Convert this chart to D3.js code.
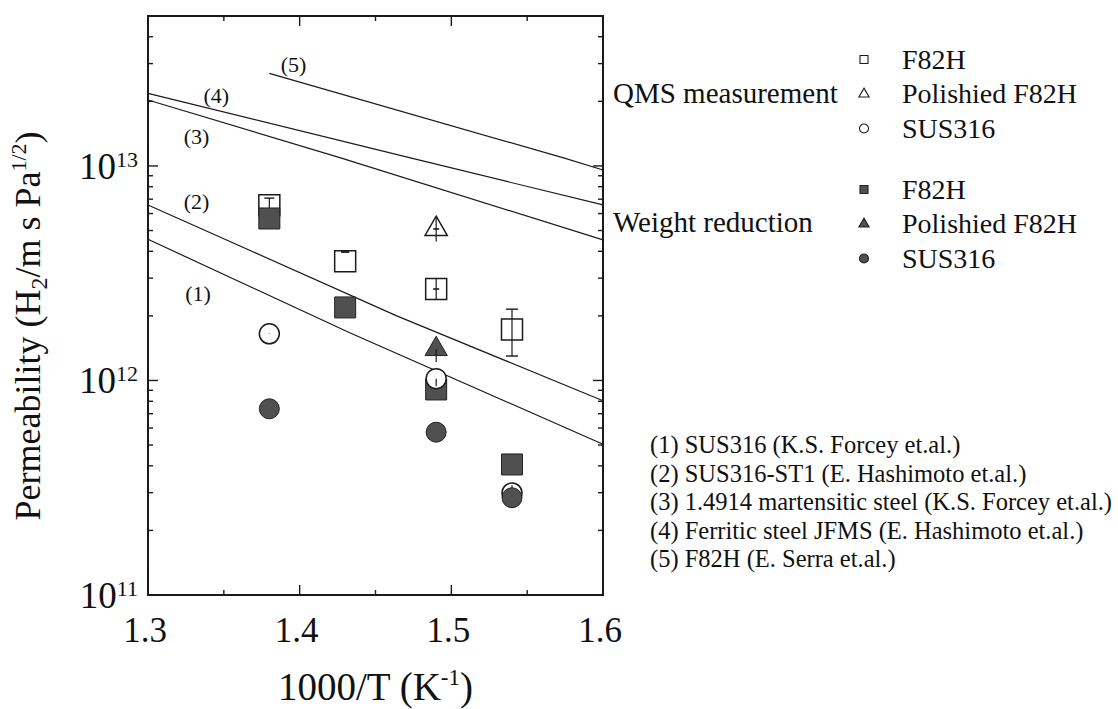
<!DOCTYPE html>
<html>
<head>
<meta charset="utf-8">
<script src="https://cdn.jsdelivr.net/npm/d3@7"></script>
<style>
  body { margin: 0; background: #fff; }
  text { font-family: "Liberation Serif", "Times New Roman", serif; fill: #111; }
</style>
</head>
<body>
<svg width="1118" height="709"></svg>
<script>
// ---- data ----
var invT = [1.38, 1.43, 1.49, 1.54];

// QMS measurement (open symbols)
var qmsF82H   = [6.56e12, 3.60e12, 2.67e12, 1.73e12];
var qmsF82HLo = [6.10e12, 3.97e12, 2.40e12, 1.30e12];
var qmsF82HHi = [7.08e12, 3.97e12, 2.97e12, 2.15e12];
var qmsF82HCap = [5, 4, 0, 6];
var qmsPolT  = [1.49];
var qmsPol   = [5.08e12];
var qmsPolLo = [4.44e12];
var qmsPolHi = [5.82e12];
var qmsSusT  = [1.38, 1.49, 1.54];
var qmsSus   = [1.65e12, 1.02e12, 2.99e11];
var qmsSusLo = [1.645e12, 0.94e12, 2.99e11];
var qmsSusHi = [1.655e12, 1.02e12, 3.25e11];

// weight reduction (filled symbols)
var wrF82H  = [5.69e12, 2.19e12, 9.08e11, 4.06e11];
var wrPolT  = [1.49];
var wrPol   = [1.40e12];
var wrPolLo = [1.22e12];
var wrPolHi = [1.40e12];
var wrSusT  = [1.38, 1.49, 1.54];
var wrSus   = [7.38e11, 5.74e11, 2.84e11];

// literature lines (1)-(5)
var lineLabels = ["(1)", "(2)", "(3)", "(4)", "(5)"];
var lineX = [
  [1.30, 1.433, 1.60],
  [1.30, 1.464, 1.60],
  [1.30, 1.427, 1.60],
  [1.30, 1.473, 1.60],
  [1.38, 1.574, 1.60]
];
var lineY = [
  [4.55e12, 1.67e12, 5.04e11],
  [6.58e12, 2.00e12, 8.04e11],
  [2.03e13, 1.09e13, 4.52e12],
  [2.18e13, 1.09e13, 6.58e12],
  [2.70e13, 1.09e13, 9.57e12]
];
// where the (n) tags sit, in data units
var tagX = [1.333, 1.332, 1.332, 1.345, 1.396];
var tagY = [2.35e12, 6.3e12, 1.27e13, 1.97e13, 2.74e13];

var xMajor = [1.3, 1.4, 1.5, 1.6];
var xMinor = [1.35, 1.45, 1.55];
var yDecades = [11, 12, 13];

var qmsNames = ["F82H", "Polishied F82H", "SUS316"];
var wrNames  = ["F82H", "Polishied F82H", "SUS316"];
var refTexts = [
  "(1) SUS316 (K.S. Forcey et.al.)",
  "(2) SUS316-ST1 (E. Hashimoto et.al.)",
  "(3) 1.4914 martensitic steel (K.S. Forcey et.al.)",
  "(4) Ferritic steel JFMS (E. Hashimoto et.al.)",
  "(5) F82H (E. Serra et.al.)"
];

// ---- layout ----
var svg = d3.select("svg");
var pL = 148, pR = 603, pT = 16, pB = 595;

var x = d3.scaleLinear().domain([1.3, 1.6]).range([pL, pR]);
var y = d3.scaleLog().domain([1e11, 5e13]).range([pB, pT]);

var gray = "#505050", dark = "#1a1a1a";

// minor y ticks 2..9 x 10^k
var yMinor = [];
yDecades.forEach(function(k) {
  for (var m = 2; m <= 9; m++) {
    var v = m * Math.pow(10, k);
    if (v <= 5e13) yMinor.push(v);
  }
});

var axes = svg.append("g");

// ticks on all four sides, pointing inward
function tick(x1, y1, x2, y2) {
  axes.append("line").attr("x1", x1).attr("y1", y1).attr("x2", x2).attr("y2", y2)
    .attr("stroke", dark).attr("stroke-width", 1.4);
}
xMajor.forEach(function(v) { tick(x(v), pB, x(v), pB - 10); tick(x(v), pT, x(v), pT + 10); });
xMinor.forEach(function(v) { tick(x(v), pB, x(v), pB - 5); tick(x(v), pT, x(v), pT + 5); });
yDecades.forEach(function(k) {
  var v = Math.pow(10, k);
  tick(pL, y(v), pL + 10, y(v)); tick(pR, y(v), pR - 10, y(v));
});
yMinor.forEach(function(v) { tick(pL, y(v), pL + 5, y(v)); tick(pR, y(v), pR - 5, y(v)); });

axes.append("rect").attr("x", pL).attr("y", pT)
  .attr("width", pR - pL).attr("height", pB - pT)
  .attr("fill", "none").attr("stroke", dark).attr("stroke-width", 2);

// x tick labels
axes.selectAll(".xl").data(xMajor).enter().append("text")
  .attr("x", function(d) { return x(d) - 3; })
  .attr("y", 642)
  .attr("text-anchor", "middle")
  .attr("font-size", 35)
  .text(function(d) { return d.toFixed(1); });

// y tick labels 10^k
yDecades.forEach(function(k) {
  var t = axes.append("text")
    .attr("x", pL - 10).attr("y", y(Math.pow(10, k)) + 13)
    .attr("text-anchor", "end");
  t.append("tspan").attr("font-size", 37).text("10");
  t.append("tspan").attr("font-size", 22).attr("dy", -12).text(k);
});

// axis titles
var xt = axes.append("text").attr("x", (pL + pR) / 2).attr("y", 700)
  .attr("text-anchor", "middle").attr("font-size", 39);
xt.append("tspan").text("1000/T (K");
xt.append("tspan").attr("font-size", 23).attr("dy", -15).text("-1");
xt.append("tspan").attr("dy", 15).text(")");

var yt = axes.append("text")
  .attr("transform", "translate(40,326) rotate(-90)")
  .attr("text-anchor", "middle").attr("font-size", 36);
yt.append("tspan").text("Permeability (H");
yt.append("tspan").attr("font-size", 24).attr("dy", 7).text("2");
yt.append("tspan").attr("dy", -7).text("/m s Pa");
yt.append("tspan").attr("font-size", 22).attr("dy", -14).text("1/2");
yt.append("tspan").attr("dy", 14).text(")");

// ---- literature lines ----
var plot = svg.append("g");
var lineGen = d3.line().x(function(d) { return x(d[0]); }).y(function(d) { return y(d[1]); });
lineX.forEach(function(xs, i) {
  var pts = xs.map(function(v, j) { return [v, lineY[i][j]]; });
  plot.append("path").attr("d", lineGen(pts))
    .attr("fill", "none").attr("stroke", dark).attr("stroke-width", 1.2);
});
plot.selectAll(".tag").data(lineLabels).enter().append("text")
  .attr("x", function(d, i) { return x(tagX[i]); })
  .attr("y", function(d, i) { return y(tagY[i]); })
  .attr("text-anchor", "middle").attr("font-size", 22)
  .text(function(d) { return d; });

// ---- data markers ----
var sqBig = d3.symbol().type(d3.symbolSquare).size(441);
var triBig = d3.symbol().type(d3.symbolTriangle).size(215);
var cirBig = d3.symbol().type(d3.symbolCircle).size(314);

// caps: >0 cap half-width, 0 = centre dash only, -1 = bare line
function errBars(xs, lo, hi, caps) {
  xs.forEach(function(v, i) {
    var cx = x(v), cap = caps[i];
    plot.append("line").attr("x1", cx).attr("x2", cx)
      .attr("y1", y(lo[i])).attr("y2", y(hi[i]))
      .attr("stroke", dark).attr("stroke-width", 1.2);
    if (cap > 0) {
      [lo[i], hi[i]].forEach(function(e) {
        plot.append("line").attr("x1", cx - cap).attr("x2", cx + cap)
          .attr("y1", y(e)).attr("y2", y(e))
          .attr("stroke", dark).attr("stroke-width", 1.4);
      });
    } else if (cap === 0) {
      var m = y(Math.sqrt(lo[i] * hi[i]));
      plot.append("line").attr("x1", cx - 3).attr("x2", cx + 3)
        .attr("y1", m).attr("y2", m)
        .attr("stroke", dark).attr("stroke-width", 1.6);
    }
  });
}

function markers(xs, vals, gen, filled) {
  plot.append("g").selectAll("path").data(vals).enter().append("path")
    .attr("d", gen)
    .attr("transform", function(d, i) { return "translate(" + x(xs[i]) + "," + y(d) + ")"; })
    .attr("fill", filled ? gray : "#fff")
    .attr("stroke", filled ? "#222" : dark)
    .attr("stroke-width", filled ? 1 : 1.5);
}

markers(invT, qmsF82H, sqBig, false);
errBars(invT, qmsF82HLo, qmsF82HHi, qmsF82HCap);
markers(invT, wrF82H, sqBig, true);
markers(qmsPolT, qmsPol, triBig, false);
errBars(qmsPolT, qmsPolLo, qmsPolHi, [0]);
markers(wrPolT, wrPol, triBig, true);
errBars(wrPolT, wrPolLo, wrPolHi, [-1]);
markers(qmsSusT, qmsSus, cirBig, false);
errBars(qmsSusT, qmsSusLo, qmsSusHi, [-1, -1, -1]);
markers(wrSusT, wrSus, cirBig, true);

// ---- legend ----
var leg = svg.append("g");
var sqS = d3.symbol().type(d3.symbolSquare).size(64);
var triS = d3.symbol().type(d3.symbolTriangle).size(45);
var cirS = d3.symbol().type(d3.symbolCircle).size(64);
var legSyms = [sqS, triS, cirS];

function legendBlock(title, names, filled, titleBase, rowBase) {
  leg.append("text").attr("x", 613).attr("y", titleBase).attr("font-size", 29).text(title);
  names.forEach(function(n, i) {
    var by = rowBase + i * 34.5;
    leg.append("path").attr("d", legSyms[i])
      .attr("transform", "translate(864," + (by - 9) + ")")
      .attr("fill", filled ? gray : "#fff")
      .attr("stroke", filled ? "#222" : dark).attr("stroke-width", 1.1);
    leg.append("text").attr("x", 902).attr("y", by).attr("font-size", 28).text(n);
  });
}
legendBlock("QMS measurement", qmsNames, false, 103, 68.5);
legendBlock("Weight reduction", wrNames, true, 232, 198.5);

leg.selectAll(".ref").data(refTexts).enter().append("text")
  .attr("x", 650)
  .attr("y", function(d, i) { return 453 + i * 28.6; })
  .attr("font-size", 24.5)
  .text(function(d) { return d; });
</script>
</body>
</html>
